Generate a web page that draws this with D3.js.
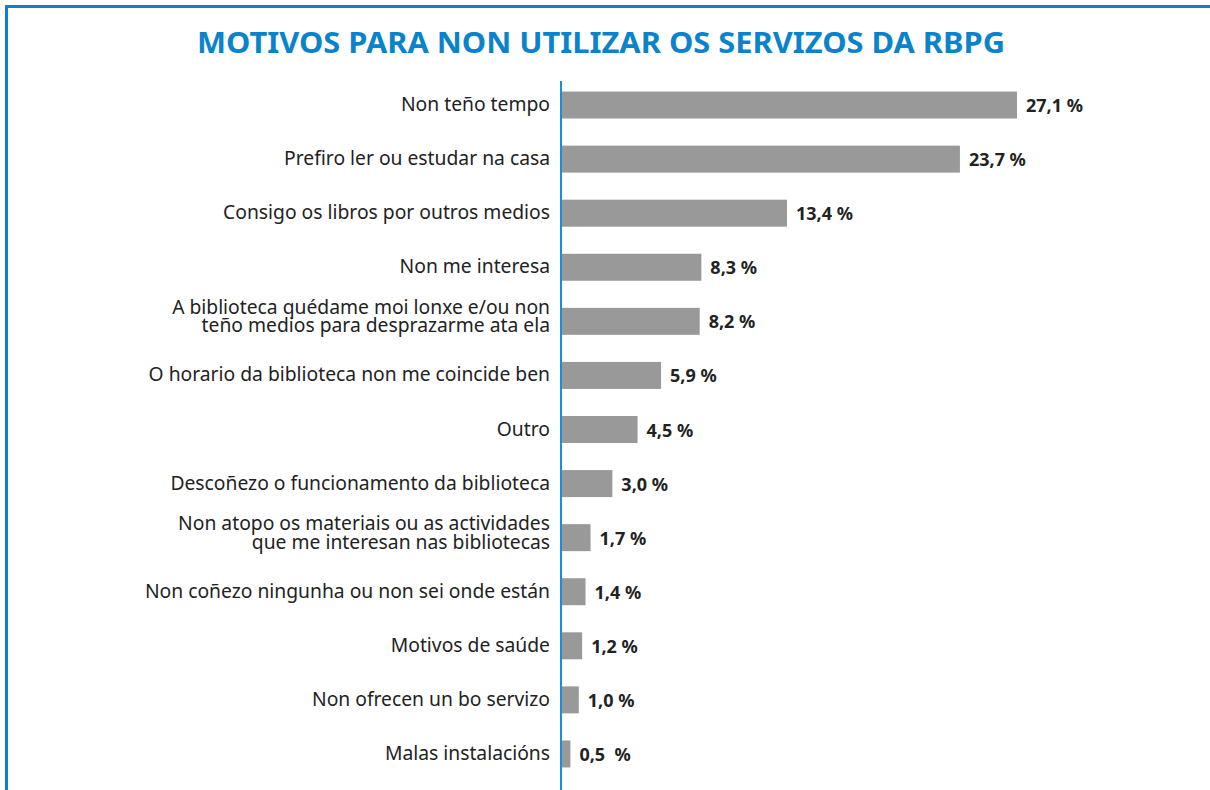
<!DOCTYPE html>
<html>
<head>
<meta charset="utf-8">
<script src="https://cdn.jsdelivr.net/npm/d3@7"></script>
<style>
  html, body { margin: 0; padding: 0; background: #fff; }
  svg { display: block; }
</style>
</head>
<body>
<div id="chart"></div>
<script>
// data
var titleText = "MOTIVOS PARA NON UTILIZAR OS SERVIZOS DA RBPG";
var categories = [
    ["Non teño tempo"],
    ["Prefiro ler ou estudar na casa"],
    ["Consigo os libros por outros medios"],
    ["Non me interesa"],
    ["A biblioteca quédame moi lonxe e/ou non", "teño medios para desprazarme ata ela"],
    ["O horario da biblioteca non me coincide ben"],
    ["Outro"],
    ["Descoñezo o funcionamento da biblioteca"],
    ["Non atopo os materiais ou as actividades", "que me interesan nas bibliotecas"],
    ["Non coñezo ningunha ou non sei onde están"],
    ["Motivos de saúde"],
    ["Non ofrecen un bo servizo"],
    ["Malas instalacións"]
];
var values = [27.1, 23.7, 13.4, 8.3, 8.2, 5.9, 4.5, 3.0, 1.7, 1.4, 1.2, 1.0, 0.5];
var valueLabels = ["27,1 %", "23,7 %", "13,4 %", "8,3 %", "8,2 %", "5,9 %", "4,5 %",
    "3,0 %", "1,7 %", "1,4 %", "1,2 %", "1,0 %", "0,5  %"];

var W = 1210, H = 790;
var blue = "#0a83cb";
var font = "'Noto Sans', 'Open Sans', sans-serif";

var svg = d3.select("#chart").append("svg")
    .attr("width", W)
    .attr("height", H);

// frame (top + left)
svg.append("path")
    .attr("d", "M6.5," + H + "V6.5H" + W)
    .attr("fill", "none")
    .attr("stroke", blue)
    .attr("stroke-width", 3);

svg.append("text")
    .attr("x", 601)
    .attr("y", 53)
    .attr("text-anchor", "middle")
    .attr("font-family", font)
    .attr("font-weight", "bold")
    .attr("font-size", 29)
    .attr("fill", blue)
    .attr("textLength", 808)
    .attr("lengthAdjust", "spacingAndGlyphs")
    .text(titleText);

var x0 = 562;
var x = d3.scaleLinear().domain([0, 27.1]).range([x0, 1017]);
var y = d3.scaleBand()
    .domain(d3.range(values.length))
    .range([78, 781])
    .paddingInner(0.5)
    .paddingOuter(0.25);

var rows = svg.append("g").selectAll("g")
    .data(values)
    .join("g");

rows.append("rect")
    .attr("x", x0)
    .attr("y", (d, i) => y(i) + y.bandwidth() / 2 - 13.5)
    .attr("width", d => x(d) - x0)
    .attr("height", 27)
    .attr("fill", "#999999");

rows.append("text")
    .attr("x", d => x(d) + 9)
    .attr("y", (d, i) => y(i) + y.bandwidth() / 2 + 7)
    .attr("font-family", font)
    .attr("font-weight", "bold")
    .attr("font-size", 18)
    .attr("fill", "#222")
    .attr("xml:space", "preserve")
    .style("white-space", "pre")
    .text((d, i) => valueLabels[i]);

// two-line labels are written as separate texts, tight like the original
rows.each(function (d, i) {
    var lines = categories[i];
    var cy = y(i) + y.bandwidth() / 2;
    var start = lines.length == 1 ? cy + 6 : cy - 7.5;
    d3.select(this).selectAll("text.cat")
        .data(lines)
        .join("text")
        .attr("class", "cat")
        .attr("x", 550)
        .attr("y", (l, k) => start + k * 18.5)
        .attr("text-anchor", "end")
        .attr("font-family", font)
        .attr("font-size", 19.3)
        .attr("fill", "#222")
        .text(l => l);
});

// axis line
svg.append("line")
    .attr("x1", 561).attr("x2", 561)
    .attr("y1", 81).attr("y2", H)
    .attr("stroke", "#1a8fd9")
    .attr("stroke-width", 2);
</script>
</body>
</html>
